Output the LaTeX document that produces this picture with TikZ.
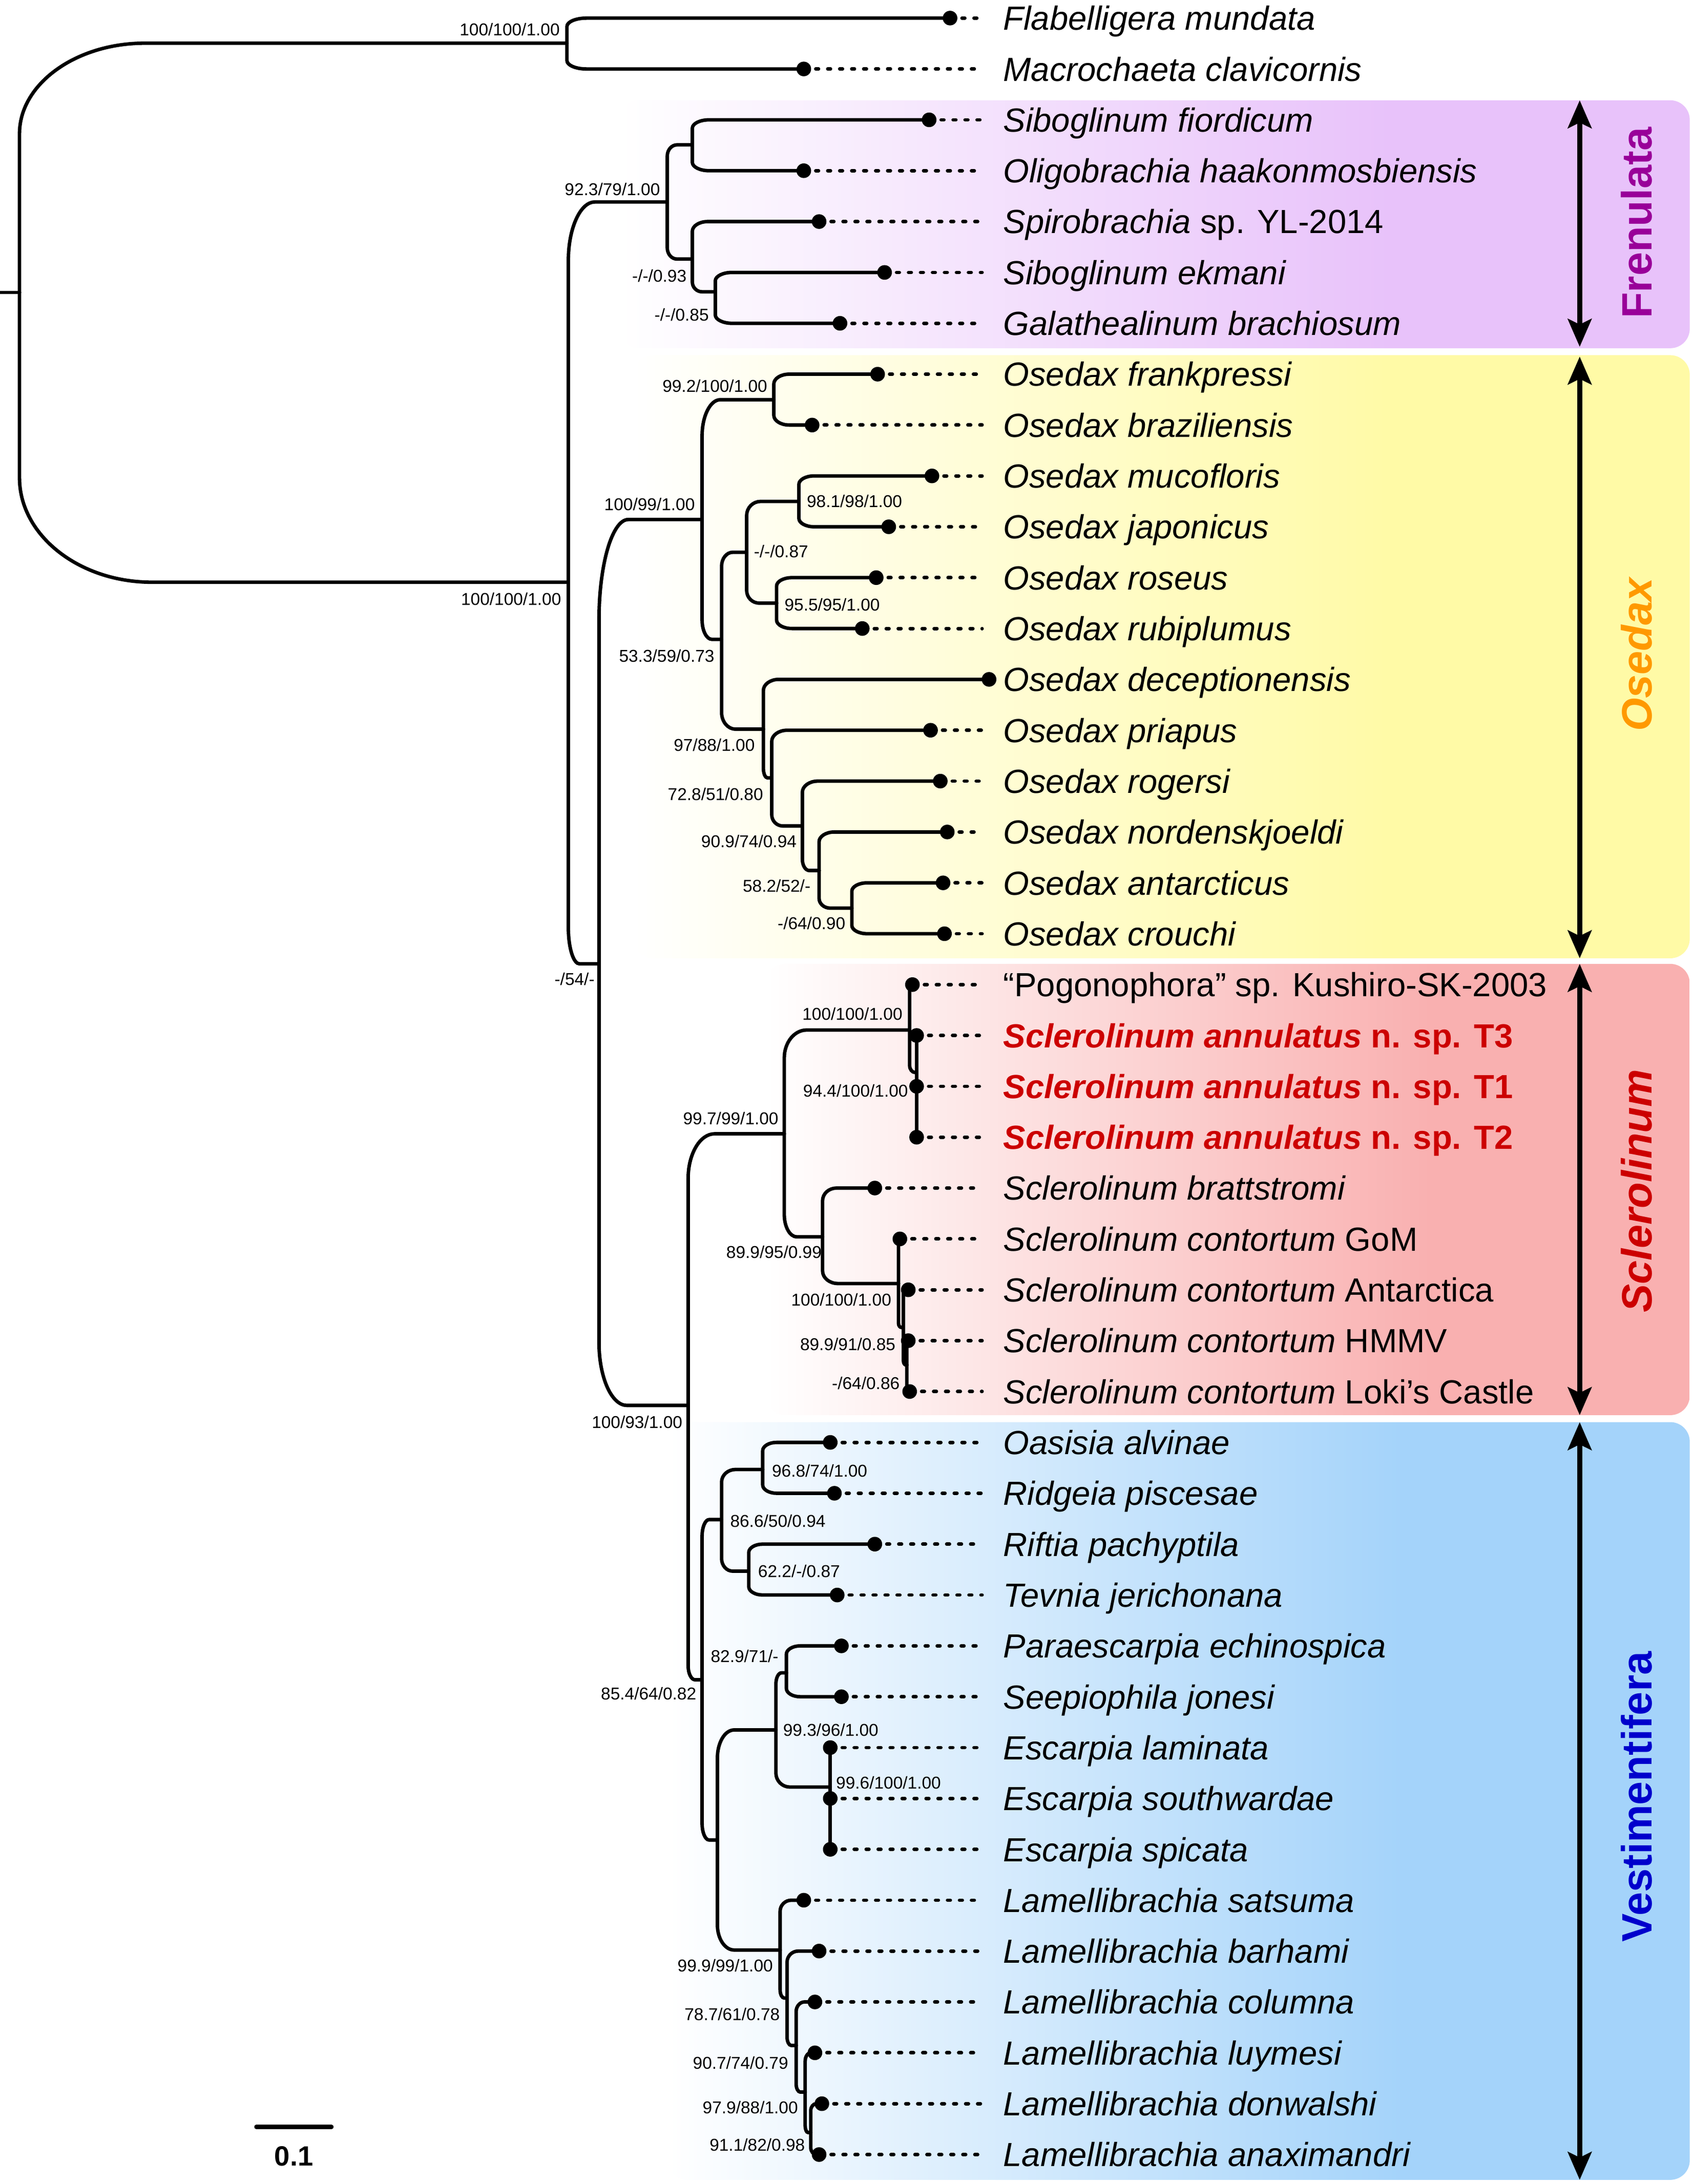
\documentclass[tikz,border=0pt]{standalone}
\usepackage{fontspec}
\setmainfont{Liberation Sans}
\usepackage{tikz}
\usetikzlibrary{calc}
\usetikzlibrary{arrows.meta}

\definecolor{frenC}{RGB}{232,194,250}
\definecolor{oseC}{RGB}{255,250,166}
\definecolor{sclC}{RGB}{249,176,176}
\definecolor{vesC}{RGB}{164,211,250}
\definecolor{frenT}{RGB}{153,0,153}
\definecolor{oseT}{RGB}{255,153,0}
\definecolor{sclT}{RGB}{204,0,0}
\definecolor{vesT}{RGB}{0,0,204}

% the path is mapped onto 25bp--75bp of the shading
\pgfdeclarehorizontalshading{frenS}{100bp}{color(0bp)=(white); color(25bp)=(white); color(61bp)=(frenC); color(100bp)=(frenC)}
\pgfdeclarehorizontalshading{oseS}{100bp}{color(0bp)=(white); color(25bp)=(white); color(61bp)=(oseC); color(100bp)=(oseC)}
\pgfdeclarehorizontalshading{sclS}{100bp}{color(0bp)=(white); color(25bp)=(white); color(61bp)=(sclC); color(100bp)=(sclC)}
\pgfdeclarehorizontalshading{vesS}{100bp}{color(0bp)=(white); color(25bp)=(white); color(61bp)=(vesC); color(100bp)=(vesC)}

\newcommand{\annsp}[1]{{\color{sclT}\bfseries\textit{Sclerolinum annulatus} n. sp. #1}}

\begin{document}
\begin{tikzpicture}[
		x=1pt, y=-1pt,
		brn/.style={line width=2.5pt, line cap=round},
		elb/.style 2 args={to path={let \p1=(\tikztostart), \p2=(\tikztotarget), \n1={sign(\y1-\y2)} in
			-- (\x1,{\y2+\n1*#2pt}) .. controls (\x1,{\y2+\n1*0.45*#2pt}) and ({\x1+0.45*#1pt},\y2) .. ({\x1+#1pt},\y2) -- (\x2,\y2)}},
		dotl/.style={line width=2.5pt, line cap=round, dash pattern=on 2pt off 6.6pt},
		tip/.style={circle, fill=black, inner sep=0pt, minimum size=10.5pt},
		taxon/.style={anchor=west, inner sep=0pt, text height=17.2pt, text depth=0pt, font=\fontsize{24}{24}\selectfont},
		sup/.style={inner sep=0pt, font=\fontsize{12.3}{12}\selectfont},
		grp/.style={line width=3.6pt, >={Stealth[length=20pt,width=17pt,inset=4pt]}, <->},
		grpl/.style={rotate=90, inner sep=0pt, font=\fontsize{30.5}{30}\selectfont\bfseries}
		]
	\useasboundingbox (0,0) rectangle (1215,1568);
	\fill[white] (0,0) rectangle (1215,1568);

	% clade bands
	\shade[shading=frenS, rounded corners=14pt] (445,72) rectangle (1213,250);
	\shade[shading=oseS, rounded corners=14pt] (455,255) rectangle (1213,688);
	\shade[shading=sclS, rounded corners=14pt] (550,692) rectangle (1213,1016);
	\shade[shading=vesS, rounded corners=14pt] (480,1021) rectangle (1213,1565);

	% taxa
	\foreach \i/\xx/\txt in {
		1/682/{\textit{Flabelligera mundata}},
		2/577/{\textit{Macrochaeta clavicornis}},
		3/667/{\textit{Siboglinum fiordicum}},
		4/577/{\textit{Oligobrachia haakonmosbiensis}},
		5/588/{\textit{Spirobrachia} sp. YL-2014},
		6/635/{\textit{Siboglinum ekmani}},
		7/603/{\textit{Galathealinum brachiosum}},
		8/630/{\textit{Osedax frankpressi}},
		9/583/{\textit{Osedax braziliensis}},
		10/669/{\textit{Osedax mucofloris}},
		11/638/{\textit{Osedax japonicus}},
		12/629/{\textit{Osedax roseus}},
		13/619/{\textit{Osedax rubiplumus}},
		14/710/{\textit{Osedax deceptionensis}},
		15/668/{\textit{Osedax priapus}},
		16/675/{\textit{Osedax rogersi}},
		17/680/{\textit{Osedax nordenskjoeldi}},
		18/677/{\textit{Osedax antarcticus}},
		19/678/{\textit{Osedax crouchi}},
		20/655/{“Pogonophora” sp. Kushiro-SK-2003},
		21/658/{\annsp{T3}},
		22/658/{\annsp{T1}},
		23/658/{\annsp{T2}},
		24/628/{\textit{Sclerolinum brattstromi}},
		25/646/{\textit{Sclerolinum contortum} GoM},
		26/652/{\textit{Sclerolinum contortum} Antarctica},
		27/652/{\textit{Sclerolinum contortum} HMMV},
		28/653/{\textit{Sclerolinum contortum} Loki’s Castle},
		29/596/{\textit{Oasisia alvinae}},
		30/599/{\textit{Ridgeia piscesae}},
		31/628/{\textit{Riftia pachyptila}},
		32/601/{\textit{Tevnia jerichonana}},
		33/604/{\textit{Paraescarpia echinospica}},
		34/604/{\textit{Seepiophila jonesi}},
		35/596/{\textit{Escarpia laminata}},
		36/596/{\textit{Escarpia southwardae}},
		37/596/{\textit{Escarpia spicata}},
		38/577/{\textit{Lamellibrachia satsuma}},
		39/588/{\textit{Lamellibrachia barhami}},
		40/585/{\textit{Lamellibrachia columna}},
		41/585/{\textit{Lamellibrachia luymesi}},
		42/590/{\textit{Lamellibrachia donwalshi}},
		43/588/{\textit{Lamellibrachia anaximandri}}} {
		\node[taxon] (T\i) at (720,{13+36.52*(\i-1)}) {\txt};
		\coordinate (P\i) at (\xx,{13+36.52*(\i-1)});
		\ifnum\xx<700 \draw[dotl] (P\i) -- ([xshift=-15pt]T\i.west); \fi
	}

	% internal nodes
	\coordinate (rs) at (0,210);
	\coordinate (R) at (14,210);
	\coordinate (OG) at (407,31);
	\coordinate (IN) at (408,418);
	\coordinate (FR) at (479,145);
	\coordinate (F1) at (497,104);
	\coordinate (F2) at (497,186);
	\coordinate (F3) at (513.5,209.5);
	\coordinate (N54) at (430,692);
	\coordinate (OS) at (504,373);
	\coordinate (O1) at (555.5,287);
	\coordinate (O2) at (518,459);
	\coordinate (O3) at (536,396.5);
	\coordinate (O4) at (573.5,360);
	\coordinate (O5) at (557.5,433);
	\coordinate (O6) at (548,523.5);
	\coordinate (O7) at (554,558.5);
	\coordinate (O8) at (576,593);
	\coordinate (O9) at (588,625);
	\coordinate (O10) at (611.5,652);
	\coordinate (N93) at (494,1009);
	\coordinate (SC) at (563,814);
	\coordinate (S1) at (653,739.5);
	\coordinate (S2) at (658,770);
	\coordinate (S3) at (590.5,888);
	\coordinate (S4) at (645,921.5);
	\coordinate (S5) at (648.5,953);
	\coordinate (S6) at (651,980);
	\coordinate (VE) at (504,1206);
	\coordinate (V1) at (518,1091);
	\coordinate (V2) at (547.5,1055);
	\coordinate (V3) at (537.5,1128);
	\coordinate (V4) at (515,1321);
	\coordinate (V5) at (557,1242);
	\coordinate (V6) at (564.5,1201);
	\coordinate (V7) at (596,1283);
	\coordinate (V8) at (560,1400);
	\coordinate (V9) at (565,1434.5);
	\coordinate (V10) at (571.5,1468.5);
	\coordinate (V11) at (578,1502);
	\coordinate (V12) at (582,1531);

	% branches
	\draw[brn] (rs) -- (R);
	\foreach \p/\c/\rx/\ry in {
		R/OG/90/65, R/IN/95/75, OG/P1/14/6, OG/P2/14/6,
		IN/FR/19/42, IN/N54/8/26, FR/F1/7/8, FR/F2/7/8,
		F1/P3/12/6, F1/P4/12/6, F2/P5/11/7, F2/F3/7/7, F3/P6/12/6, F3/P7/12/6,
		N54/OS/21/72, N54/N93/20/45, OS/O1/13/26, OS/O2/7/14,
		O1/P8/11/7, O1/P9/11/7, O2/O3/8/10, O2/O6/10/12,
		O3/O4/10/10, O3/O5/9/9, O4/P10/11/6, O4/P11/11/6, O5/P12/11/6, O5/P13/11/6,
		O6/P14/11/8, O6/O7/3/7, O7/P15/11/8, O7/O8/8/8, O8/P16/11/8, O8/O9/5/8,
		O9/P17/11/7, O9/O10/8/7, O10/P18/11/6, O10/P19/11/6,
		N93/SC/19/32, N93/VE/5/10, SC/S1/16/20, SC/S3/9/16,
		S1/P20/1/1, S1/S2/4/5, S3/P24/10/9, S3/S4/11/9,
		S4/P25/1/1, S4/S5/2/3, S5/P26/1/1, S5/S6/2/3, S6/P27/1/1, S6/P28/1/1,
		VE/V1/5/12, VE/V4/5/12, V1/V2/10/9, V1/V3/8/9,
		V2/P29/10/6, V2/P30/10/6, V3/P31/10/6, V3/P32/10/6,
		V4/V5/12/20, V4/V8/12/18, V5/V6/4/8, V5/V7/10/10, V6/P33/10/6, V6/P34/10/6,
		V8/P38/8/8, V8/V9/3/6, V9/P39/8/8, V9/V10/3/6, V10/P40/6/7, V10/V11/3/6,
		V11/P41/4/6, V11/V12/2/5, V12/P42/4/5, V12/P43/4/5}
		\draw[brn] (\p) to[elb={\rx}{\ry}] (\c);
	\draw[brn] (P21) -- (P23);
	\draw[brn] (P35) -- (P37);

	% leaf dots
	\foreach \i in {1,...,43}
		\node[tip] (L\i) at (P\i) {};

	% support values
	\foreach \an/\sx/\sy/\t [count=\k] in {
		east/402/21/{100/100/1.00}, east/403/430/{100/100/1.00},
		east/474/136/{92.3/79/1.00}, east/493/198/{-/-/0.93}, east/509/226/{-/-/0.85},
		east/551/277/{99.2/100/1.00}, east/499/362/{100/99/1.00},
		west/579/360/{98.1/98/1.00}, west/541/396/{-/-/0.87}, west/563/434/{95.5/95/1.00},
		east/513/471/{53.3/59/0.73}, east/542/535/{97/88/1.00}, east/548/570/{72.8/51/0.80},
		east/572/604/{90.9/74/0.94}, east/582/636/{58.2/52/-}, east/607/663/{-/64/0.90},
		east/427/703/{-/54/-},
		east/648/728/{100/100/1.00}, east/652/783/{94.4/100/1.00}, east/559/803/{99.7/99/1.00},
		east/590/899/{89.9/95/0.99}, east/640/933/{100/100/1.00}, east/643/965/{89.9/91/0.85},
		east/646/993/{-/64/0.86}, east/490/1021/{100/93/1.00},
		west/554/1056/{96.8/74/1.00}, west/524/1092/{86.6/50/0.94}, west/544/1128/{62.2/-/0.87},
		east/559/1189/{82.9/71/-}, east/500/1216/{85.4/64/0.82},
		west/562/1242/{99.3/96/1.00}, west/600/1280/{99.6/100/1.00},
		east/555/1411/{99.9/99/1.00}, east/560/1446/{78.7/61/0.78}, east/566/1481/{90.7/74/0.79},
		east/573/1513/{97.9/88/1.00}, east/578/1540/{91.1/82/0.98}}
		\node[sup, anchor=\an] (s\k) at (\sx,\sy) {\t};

	% clade arrows and names
	\coordinate (frT) at (1134,72);
	\coordinate (frB) at (1134,249);
	\coordinate (osT) at (1134,256);
	\coordinate (osB) at (1134,688);
	\coordinate (scT) at (1134,692);
	\coordinate (scB) at (1134,1016);
	\coordinate (veT) at (1134,1021);
	\coordinate (veB) at (1134,1565);
	\draw[grp] (frT) -- (frB);
	\draw[grp] (osT) -- (osB);
	\draw[grp] (scT) -- (scB);
	\draw[grp] (veT) -- (veB);
	\node[grpl, text=frenT] (frL) at (1175,160) {Frenulata};
	\node[grpl, text=oseT] (osL) at (1175,470) {\itshape Osedax};
	\node[grpl, text=sclT] (scL) at (1175,855) {\itshape Sclerolinum};
	\node[grpl, text=vesT] (veL) at (1175,1290) {Vestimentifera};

	% scale bar
	\coordinate (sbA) at (184,1527);
	\coordinate (sbB) at (238,1527);
	\draw[line width=3pt, line cap=round] (sbA) -- (sbB);
	\node[font=\fontsize{20}{20}\selectfont\bfseries, inner sep=0pt] (sbL) at (211,1548) {0.1};
\end{tikzpicture}
\end{document}
